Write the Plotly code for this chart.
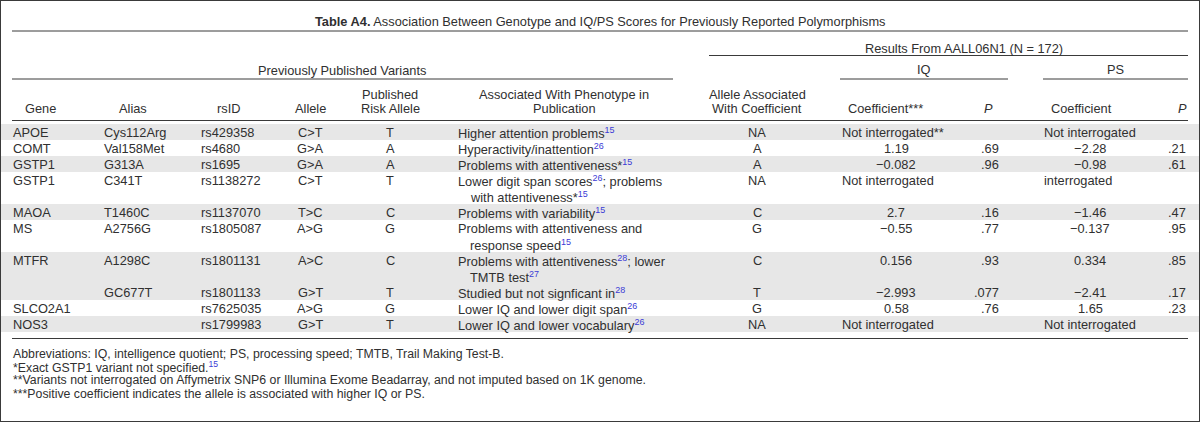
import re
import plotly.graph_objects as go

# table content
title_label = "Table A4."
title_text = "Association Between Genotype and IQ/PS Scores for Previously Reported Polymorphisms"
results_label = "Results From AALL06N1 (N = 172)"
published_label = "Previously Published Variants"
group_labels = ["IQ", "PS"]

header_lines = [
    ["Gene"],
    ["Alias"],
    ["rsID"],
    ["Allele"],
    ["Published", "Risk Allele"],
    ["Associated With Phenotype in", "Publication"],
    ["Allele Associated", "With Coefficient"],
    ["Coefficient***"],
    ["<i>P</i>"],
    ["Coefficient"],
    ["<i>P</i>"],
]

genes = ["APOE", "COMT", "GSTP1", "GSTP1", "MAOA", "MS", "MTFR", "", "SLCO2A1", "NOS3"]
aliases = ["Cys112Arg", "Val158Met", "G313A", "C341T", "T1460C", "A2756G", "A1298C", "GC677T", "", ""]
rsids = ["rs429358", "rs4680", "rs1695", "rs1138272", "rs1137070", "rs1805087",
         "rs1801131", "rs1801133", "rs7625035", "rs1799983"]
alleles = ["C>T", "G>A", "G>A", "C>T", "T>C", "A>G", "A>C", "G>T", "A>G", "G>T"]
risk_alleles = ["T", "A", "A", "T", "C", "G", "C", "T", "G", "T"]
phenotypes = [
    ["Higher attention problems^15"],
    ["Hyperactivity/inattention^26"],
    ["Problems with attentiveness*^15"],
    ["Lower digit span scores^26; problems", "with attentiveness*^15"],
    ["Problems with variability^15"],
    ["Problems with attentiveness and", "response speed^15"],
    ["Problems with attentiveness^28; lower", "TMTB test^27"],
    ["Studied but not signficant in^28"],
    ["Lower IQ and lower digit span^26"],
    ["Lower IQ and lower vocabulary^26"],
]
coef_alleles = ["NA", "A", "A", "NA", "C", "G", "C", "T", "G", "NA"]
iq_coef = ["Not interrogated**", "1.19", "\u22120.082", "Not interrogated", "2.7",
           "\u22120.55", "0.156", "\u22122.993", "0.58", "Not interrogated"]
iq_p = ["", ".69", ".96", "", ".16", ".77", ".93", ".077", ".76", ""]
ps_coef = ["Not interrogated", "\u22122.28", "\u22120.98", "interrogated", "\u22121.46",
           "\u22120.137", "0.334", "\u22122.41", "1.65", "Not interrogated"]
ps_p = ["", ".21", ".61", "", ".47", ".95", ".85", ".17", ".23", ""]

footnotes = [
    "Abbreviations: IQ, intelligence quotient; PS, processing speed; TMTB, Trail Making Test-B.",
    "*Exact GSTP1 variant not specified.^15",
    "**Variants not interrogated on Affymetrix SNP6 or Illumina Exome Beadarray, and not imputed based on 1K genome.",
    "***Positive coefficient indicates the allele is associated with higher IQ or PS.",
]

# look
W, H = 1200, 422
FONT = "Liberation Sans, Arial, sans-serif"
FS = 12.8
INK = "#303030"
REF = "#3b3bd6"
STRIPE = "#e7e7e7"
RULE = "#3a3a3a"
LINE_H = 16
TOP = 124


def ref(s):
    # ^NN -> blue superscript reference
    return re.sub(r"\^(\d+)", r"<sup><span style='color:%s'>\1</span></sup>" % REF, s)


annotations = []


def cell(x, y, text, anchor="left", size=FS):
    if not text:
        return
    annotations.append(dict(
        x=x, y=y, xref="x", yref="y", text=ref(text), showarrow=False,
        xanchor=anchor, yanchor="middle", borderpad=0,
        font=dict(family=FONT, size=size, color=INK),
    ))


shapes = []


def rule(x0, x1, y, w=1):
    shapes.append(dict(type="line", xref="x", yref="y", x0=x0, x1=x1, y0=y, y1=y,
                       line=dict(color=RULE, width=w)))


# row geometry
row_top = []
y = TOP
for p in phenotypes:
    row_top.append(y)
    y += len(p) * LINE_H
table_bottom = y

# shading toggles with every new gene
shade = []
on = False
for g in genes:
    if g:
        on = not on
    shade.append(on)

for i, p in enumerate(phenotypes):
    if shade[i]:
        shapes.append(dict(type="rect", xref="x", yref="y", x0=0, x1=W,
                           y0=row_top[i], y1=row_top[i] + len(p) * LINE_H,
                           fillcolor=STRIPE, line=dict(width=0), layer="below"))

# title + spanners
cell(600, 21, "<b>%s</b> %s" % (title_label, title_text), "center")
rule(12, 1188, 31)
cell(964, 48, results_label, "center")
rule(709, 1188, 55.5)
cell(342, 70, published_label, "center")
cell(924, 69, group_labels[0], "center")
cell(1115, 69, group_labels[1], "center")
rule(12, 673, 79)
rule(840, 1008, 79)
rule(1043, 1188, 79)

# column headers
header_x = [40, 133, 228, 310, 390, 564, 757, 885, 988, 1081, 1182]
for hx, lines in zip(header_x, header_lines):
    ys = [108] if len(lines) == 1 else [94, 108]
    for hy, t in zip(ys, lines):
        cell(hx, hy, t, "center")
rule(12, 1188, 120.5)

# body
for i in range(len(genes)):
    yc = row_top[i] + 8.5
    cell(12, yc, genes[i])
    cell(103, yc, aliases[i])
    cell(200, yc, rsids[i])
    cell(310, yc, alleles[i], "center")
    cell(390, yc, risk_alleles[i], "center")
    for k, line in enumerate(phenotypes[i]):
        cell(457 if k == 0 else 469, yc + k * LINE_H, line)
    cell(757, yc, coef_alleles[i], "center")
    if "interrogated" in iq_coef[i]:
        cell(841, yc, iq_coef[i])
    else:
        cell(896, yc, iq_coef[i], "center")
    cell(1000, yc, iq_p[i], "right")
    if "interrogated" in ps_coef[i]:
        cell(1043, yc, ps_coef[i])
    else:
        cell(1090, yc, ps_coef[i], "center")
    cell(1187, yc, ps_p[i], "right")

rule(12, 1188, table_bottom + 6.5, 1.2)

for k, note in enumerate(footnotes):
    cell(12, table_bottom + 22 + k * 13.2, note, size=12.3)

# outer frame
shapes.append(dict(type="rect", xref="paper", yref="paper", x0=0, x1=1, y0=0, y1=1,
                   line=dict(color="#3a3a3a", width=2)))

fig = go.Figure()
fig.add_trace(go.Scatter(x=[0, W], y=[0, H], mode="markers", marker=dict(opacity=0),
                         hoverinfo="skip", showlegend=False))
fig.update_layout(
    width=W, height=H,
    margin=dict(l=0, r=0, t=0, b=0),
    paper_bgcolor="white", plot_bgcolor="white",
    xaxis=dict(range=[0, W], visible=False, fixedrange=True),
    yaxis=dict(range=[H, 0], visible=False, fixedrange=True),
    annotations=annotations,
    shapes=shapes,
    showlegend=False,
)

# drop the browser's default body margin so the table sits flush in the window
fig.write_html("out.html", config={"displayModeBar": False},
               post_script="document.body.style.margin='0';document.body.style.overflow='hidden';")
